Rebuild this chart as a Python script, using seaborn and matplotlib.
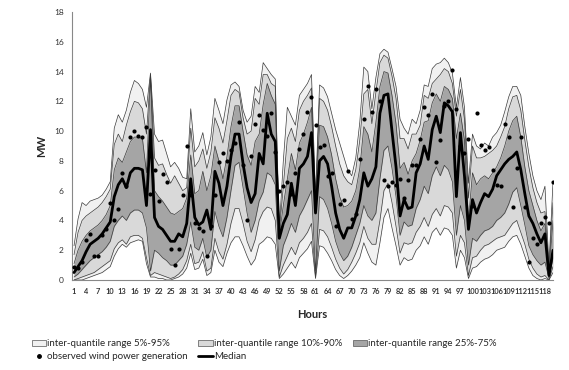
import numpy as np
import pandas as pd
import matplotlib
matplotlib.use("Agg")
import matplotlib.pyplot as plt
import seaborn as sns
from matplotlib.patches import Patch
from matplotlib.lines import Line2D

hours = list(range(1, 121))

median = [0.5, 0.9, 1.3, 1.9, 2.4, 2.6, 2.8, 3.1, 3.5, 3.9,
          5.6, 6.4, 6.8, 6.2, 7.2, 7.5, 7.5, 7.4, 5.0, 10.1,
          4.2, 3.6, 3.4, 3.0, 2.6, 2.6, 3.1, 2.9, 3.8, 6.8,
          4.2, 3.7, 3.9, 4.7, 3.4, 7.3, 6.5, 5.0, 6.3, 8.3,
          9.8, 9.8, 7.8, 6.2, 5.2, 5.8, 8.5, 7.8, 11.2, 9.8,
          9.3, 2.8, 3.8, 4.4, 6.5, 5.0, 7.5, 7.8, 8.3, 9.9,
          4.5, 8.0, 8.3, 7.8, 6.3, 4.5, 3.4, 2.8, 3.5, 3.5,
          4.3, 5.4, 7.2, 6.3, 6.8, 7.6, 11.2, 12.4, 12.5, 10.0,
          7.6, 4.3, 5.4, 4.8, 4.9, 7.2, 7.8, 9.0, 8.1, 10.1,
          11.0, 9.9, 11.9, 11.7, 11.3, 5.6, 9.9, 7.0, 3.4, 5.4,
          4.5, 5.2, 5.8, 5.6, 6.1, 7.0, 7.4, 7.8, 8.1, 8.3,
          8.6, 7.4, 5.8, 4.3, 3.8, 3.1, 2.5, 3.1, 0.3, 2.0]

q05 = [0.0, 0.0, 0.0, 0.1, 0.2, 0.3, 0.4, 0.5, 0.7, 0.9,
       1.6, 2.1, 2.4, 2.2, 2.5, 2.6, 2.7, 2.6, 1.1, 0.2,
       0.2, 0.1, 0.1, 0.0, 0.0, 0.1, 0.2, 0.4, 0.8, 1.8,
       0.7, 0.8, 1.4, 0.3, 0.5, 2.0, 1.2, 0.9, 1.8, 2.5,
       2.9, 2.9, 2.3, 1.6, 1.0, 1.4, 2.4, 2.6, 2.9, 2.8,
       2.4, 0.1, 0.4, 0.8, 1.2, 0.8, 1.5, 1.8, 2.1, 2.6,
       0.1, 2.3, 2.2, 1.8, 1.3, 0.7, 0.3, 0.1, 0.3, 0.6,
       1.0, 1.5, 2.5, 1.8, 1.2, 1.0, 2.5, 4.2, 4.8, 3.5,
       2.3, 1.0, 1.5, 1.3, 1.4, 2.0, 2.3, 2.9, 2.4, 3.2,
       3.5, 3.0, 3.5, 3.4, 3.0, 0.8, 2.0, 1.5, 0.1, 0.8,
       0.9, 1.2, 1.4, 1.5, 1.7, 2.0, 2.1, 2.2, 2.6, 2.9,
       3.0, 2.4, 1.6, 0.8, 0.3, 0.1, 0.0, 0.1, 0.0, 0.5]

q10 = [0.0, 0.1, 0.2, 0.3, 0.4, 0.5, 0.7, 0.9, 1.1, 1.3,
       2.1, 2.5, 2.7, 2.4, 2.9, 3.0, 3.0, 2.8, 1.5, 0.3,
       0.5, 0.4, 0.3, 0.2, 0.1, 0.2, 0.4, 0.7, 1.3, 2.4,
       1.1, 1.2, 1.9, 0.6, 0.8, 2.8, 1.9, 1.4, 2.4, 3.8,
       4.8, 4.8, 3.8, 2.6, 1.9, 2.7, 4.0, 4.6, 4.9, 4.8,
       4.0, 0.2, 1.0, 1.6, 2.2, 1.7, 2.5, 2.8, 3.2, 3.8,
       0.2, 3.4, 3.3, 2.9, 2.2, 1.4, 0.8, 0.4, 0.7, 1.2,
       1.8, 2.5, 3.6, 2.8, 2.4, 2.4, 4.0, 6.0, 6.5, 5.2,
       3.6, 1.8, 2.5, 2.4, 2.5, 3.2, 3.6, 4.2, 3.6, 4.4,
       4.8, 4.3, 5.0, 4.9, 4.5, 1.6, 3.0, 2.5, 0.3, 1.5,
       1.6, 2.0, 2.3, 2.4, 2.6, 2.8, 2.9, 3.0, 3.4, 3.8,
       4.0, 3.2, 2.4, 1.4, 0.8, 0.4, 0.2, 0.3, 0.0, 0.9]

q25 = [0.2, 0.4, 0.7, 1.0, 1.3, 1.5, 1.7, 1.9, 2.2, 2.6,
       3.6, 4.0, 4.3, 4.0, 4.5, 4.7, 4.7, 4.5, 3.5, 0.6,
       2.0, 1.8, 1.5, 1.3, 1.0, 1.0, 1.3, 1.6, 2.4, 3.9,
       2.2, 2.0, 2.8, 1.5, 2.0, 4.6, 3.6, 2.9, 4.2, 6.0,
       7.7, 7.9, 6.2, 4.5, 3.2, 4.0, 5.3, 5.9, 7.2, 7.0,
       6.4, 0.6, 2.3, 3.0, 3.8, 3.2, 4.3, 4.8, 5.4, 6.0,
       0.6, 5.6, 5.4, 4.8, 3.8, 2.6, 1.8, 1.3, 1.6, 2.2,
       3.0, 3.8, 5.0, 4.3, 4.0, 4.5, 6.8, 8.7, 9.0, 7.5,
       5.6, 3.0, 3.9, 3.6, 3.7, 4.8, 5.4, 6.3, 5.8, 7.0,
       7.6, 7.0, 7.7, 7.4, 6.6, 3.0, 5.0, 4.0, 1.0, 2.8,
       2.6, 3.0, 3.3, 3.4, 3.6, 4.0, 4.2, 4.5, 5.1, 5.9,
       6.2, 5.0, 3.7, 2.3, 1.7, 1.3, 1.0, 1.2, 0.1, 1.5]

q75 = [1.1, 2.0, 2.6, 3.0, 3.3, 3.5, 3.7, 4.0, 4.4, 5.0,
       7.4, 8.2, 7.9, 8.6, 9.3, 9.6, 9.6, 9.5, 7.2, 13.6,
       6.0, 5.6, 5.3, 4.9, 4.5, 4.4, 4.6, 4.8, 5.5, 8.4,
       5.8, 6.0, 7.3, 6.0, 7.0, 9.0, 8.0, 6.8, 8.3, 10.3,
       11.7, 11.7, 10.0, 8.4, 7.7, 9.3, 9.8, 11.8, 13.2, 12.4,
       11.8, 3.0, 5.0, 6.8, 8.5, 7.4, 9.2, 9.8, 10.6, 11.6,
       4.8, 10.4, 10.3, 9.6, 8.4, 6.8, 5.6, 4.9, 5.0, 5.3,
       6.0, 7.5, 10.3, 9.8, 8.6, 10.6, 13.0, 14.0, 13.9, 12.4,
       10.5, 7.5, 7.9, 7.1, 8.0, 8.5, 9.4, 10.6, 10.7, 11.9,
       12.5, 12.0, 13.0, 12.8, 12.2, 9.5, 11.2, 9.4, 4.0, 7.2,
       6.4, 6.8, 7.0, 6.8, 7.2, 7.6, 8.2, 9.0, 10.0, 10.7,
       11.0, 9.6, 7.6, 6.0, 5.0, 4.0, 3.3, 3.8, 0.5, 4.0]

q90 = [1.7, 3.2, 4.0, 4.3, 4.5, 4.7, 4.9, 5.2, 5.6, 6.1,
       9.1, 9.8, 9.3, 10.4, 11.3, 12.0, 11.9, 11.5, 9.8, 13.8,
       8.2, 7.7, 7.8, 7.1, 6.5, 7.0, 6.5, 6.0, 6.2, 10.2,
       7.6, 8.0, 8.8, 7.5, 8.6, 10.9, 10.2, 9.2, 10.7, 12.4,
       12.8, 12.6, 10.9, 9.8, 10.0, 12.2, 11.8, 13.8, 13.8, 13.2,
       13.0, 3.2, 6.3, 9.5, 10.2, 9.3, 11.4, 12.0, 12.4, 12.9,
       5.2, 12.2, 12.0, 11.4, 10.3, 9.0, 7.8, 7.0, 6.6, 6.4,
       7.4, 9.4, 12.5, 12.8, 10.5, 12.6, 14.6, 15.1, 14.9, 13.7,
       12.2, 9.5, 9.5, 8.8, 9.8, 9.8, 10.4, 12.4, 12.2, 13.2,
       13.5, 13.8, 14.2, 14.0, 13.2, 11.0, 12.8, 10.8, 5.5, 9.0,
       8.2, 8.2, 8.3, 8.5, 8.7, 9.0, 9.6, 10.3, 11.5, 12.3,
       12.4, 11.4, 9.4, 7.6, 6.2, 5.2, 4.5, 4.6, 0.8, 5.2]

q95 = [2.3, 4.1, 5.2, 5.0, 5.3, 5.4, 5.5, 5.7, 6.1, 6.6,
       10.2, 11.1, 10.6, 11.4, 12.6, 13.4, 13.2, 12.8, 11.6, 13.9,
       9.8, 9.3, 9.4, 8.5, 7.6, 7.9, 7.5, 6.9, 6.8, 11.5,
       8.6, 9.0, 9.9, 8.4, 9.6, 12.2, 11.4, 10.5, 12.1, 13.1,
       13.3, 13.0, 11.4, 10.6, 11.0, 13.0, 12.6, 14.6, 14.2, 13.8,
       13.5, 3.4, 8.0, 11.6, 11.0, 10.4, 12.4, 12.8, 13.2, 13.8,
       5.6, 13.1, 12.9, 12.3, 11.2, 10.1, 9.2, 8.3, 7.4, 7.0,
       8.2, 10.6, 14.3, 14.0, 11.5, 13.6, 15.2, 15.5, 15.3, 14.2,
       13.0, 10.8, 10.2, 9.8, 10.8, 10.5, 11.4, 13.1, 13.0, 14.2,
       14.5, 14.6, 14.9, 14.6, 13.9, 11.6, 13.6, 11.6, 6.5, 9.8,
       9.0, 8.8, 9.2, 9.0, 9.6, 9.9, 10.4, 11.3, 12.3, 13.0,
       13.0, 12.4, 10.3, 8.5, 7.0, 6.0, 5.4, 6.3, 1.0, 6.6]

observed = [0.9, 0.8, 1.2, 2.7, 3.1, 1.6, 1.6, 3.0, 3.4, 5.2,
            4.0, 4.8, 7.2, 6.3, 9.6, 10.0, 9.7, 9.6, 10.3, 5.8,
            7.4, 5.3, 7.1, 6.6, 2.1, 1.0, 2.1, 5.7, 9.0, 5.7,
            3.8, 3.5, 3.3, 1.6, 3.6, 5.7, 7.9, 8.5, 8.0, 8.7,
            9.2, 10.6, 7.7, 4.0, 8.3, 10.5, 11.1, 10.1, 9.7, 11.2,
            8.6, 6.0, 6.3, 6.6, 5.8, 7.2, 8.8, 9.8, 11.3, 12.3,
            10.4, 8.9, 9.1, 7.0, 7.2, 3.6, 5.1, 5.4, 7.3, 4.1,
            4.4, 8.1, 10.8, 13.0, 11.3, 12.8, 12.0, 6.7, 6.3, 6.6,
            6.4, 6.8, 5.5, 6.7, 7.7, 7.7, 9.5, 11.6, 11.1, 12.5,
            7.9, 9.4, 11.7, 12.0, 14.1, 11.5, 9.0, 8.5, 9.5, 5.0,
            11.2, 9.1, 8.7, 8.9, 7.4, 6.4, 6.3, 10.5, 9.6, 4.9,
            7.5, 9.6, 4.9, 1.2, 2.8, 2.4, 3.8, 4.2, 3.8, 6.6]

x_tick_labels = [str(h) for h in range(1, 121, 3)]
y_ticks = list(range(0, 20, 2))

df = pd.DataFrame({"hour": hours, "median": median, "observed": observed})

sns.set_style("white")
plt.rcParams["font.family"] = ["Lato", "DejaVu Sans"]

fig = plt.figure(figsize=(5.69, 3.70), dpi=100)
ax = fig.add_axes([72 / 569, 90 / 370, 481 / 569, 268 / 370])

line_kw = dict(color="#3a3a3a", linewidth=0.5)
ax.fill_between(hours, q05, q95, color="#f1f1f1", linewidth=0)
ax.fill_between(hours, q10, q90, color="#d9d9d9", linewidth=0)
ax.fill_between(hours, q25, q75, color="#a5a5a5", linewidth=0)
for q in (q05, q10, q25, q75, q90, q95):
    ax.plot(hours, q, **line_kw)

sns.scatterplot(data=df, x="hour", y="observed", ax=ax, color="black",
                s=9, linewidth=0, zorder=4)
sns.lineplot(data=df, x="hour", y="median", ax=ax, color="black",
             linewidth=2, zorder=5)

ax.set_xlim(0.5, 120)
ax.set_ylim(0, 18)
ax.set_yticks(y_ticks)
ax.set_yticklabels([str(t) for t in y_ticks], fontsize=6, color="#333333")
ax.set_xticks(range(1, 121, 3))
ax.set_xticklabels(x_tick_labels, fontsize=5.3, color="#333333", fontweight="bold")
ax.tick_params(axis="both", length=0, pad=6)
ax.set_xlabel("Hours", fontsize=8, fontweight="bold", labelpad=10)
ax.set_ylabel("MW", fontsize=8, fontweight="bold", labelpad=5)
for side in ("top", "right"):
    ax.spines[side].set_visible(False)
for side in ("left", "bottom"):
    ax.spines[side].set_color("#888888")
    ax.spines[side].set_linewidth(0.8)

handles = [
    Patch(facecolor="#f1f1f1", edgecolor="#555555", linewidth=0.5,
          label="inter-quantile range 5%-95%"),
    Line2D([], [], marker="o", color="black", linestyle="none", markersize=2.5,
           label="observed wind power generation"),
    Patch(facecolor="#d9d9d9", edgecolor="#555555", linewidth=0.5,
          label="inter-quantile range 10%-90%"),
    Line2D([], [], color="black", linewidth=2, label="Median"),
    Patch(facecolor="#a5a5a5", edgecolor="#555555", linewidth=0.5,
          label="inter-quantile range 25%-75%"),
]
fig.legend(handles=handles, ncol=3, loc="lower left", bbox_to_anchor=(0.04, 0.0),
           frameon=False, fontsize=7, handlelength=1.5, handleheight=0.7,
           handletextpad=0.1, columnspacing=1.1, labelspacing=0.4)

fig.savefig("out.png", dpi=100)
